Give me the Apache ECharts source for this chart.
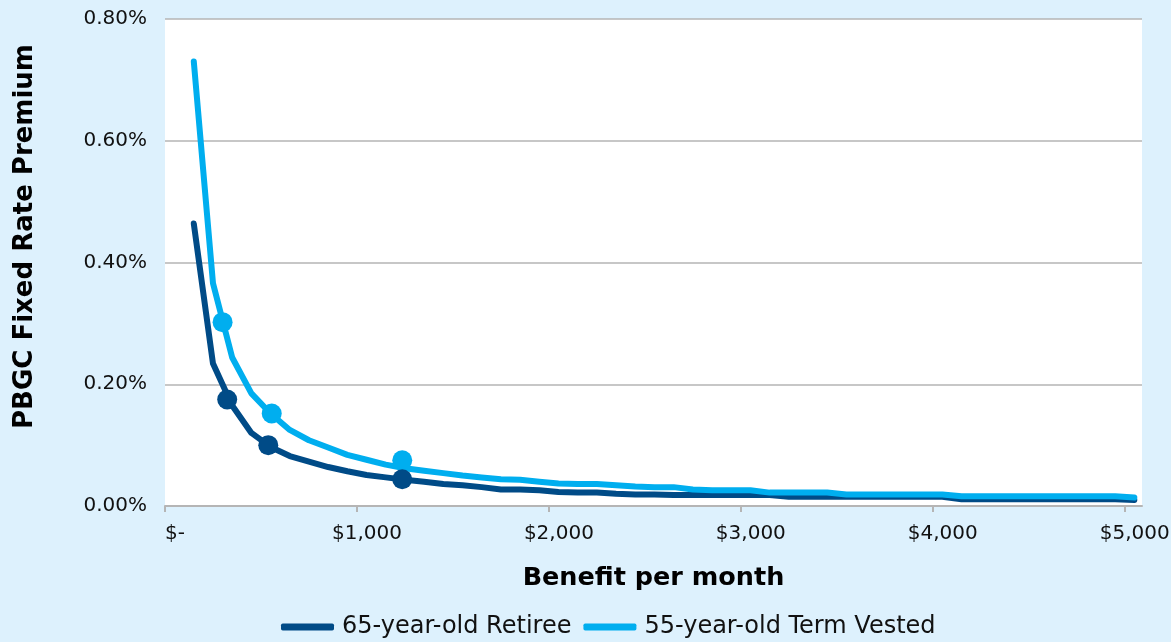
<!DOCTYPE html>
<html>
<head>
<meta charset="utf-8">
<script src="https://cdn.jsdelivr.net/npm/echarts@6/dist/echarts.min.js"></script>
<style>
html,body{margin:0;padding:0;background:#DDF1FD;}
#chart{width:1171px;height:642px;}
</style>
</head>
<body>
<div id="chart"></div>
<script>
// Benefit per month ($) for each plotted point
const benefits = [150,250,350,450,550,650,750,850,950,1050,1150,1250,1350,1450,1550,1650,1750,1850,1950,2050,
  2150,2250,2350,2450,2550,2650,2750,2850,2950,3050,3150,3250,3350,3450,3550,3650,3750,3850,3950,4050,
  4150,4250,4350,4450,4550,4650,4750,4850,4950,5050];
// PBGC fixed rate premium as % of benefit value
const retiree = [0.464,0.234,0.165,0.120,0.097,0.082,0.073,0.064,0.057,0.051,0.047,0.043,0.040,0.036,0.034,0.031,0.027,0.027,0.026,0.023,
  0.022,0.022,0.020,0.019,0.019,0.018,0.018,0.018,0.018,0.018,0.018,0.015,0.015,0.015,0.015,0.015,0.015,0.015,0.015,0.015,
  0.011,0.011,0.011,0.011,0.011,0.011,0.011,0.011,0.011,0.010];
const termVested = [0.730,0.366,0.244,0.185,0.152,0.125,0.108,0.096,0.084,0.076,0.068,0.062,0.058,0.054,0.050,0.047,0.044,0.043,0.040,0.037,
  0.036,0.036,0.034,0.032,0.031,0.031,0.027,0.026,0.026,0.026,0.022,0.022,0.022,0.022,0.019,0.019,0.019,0.019,0.019,0.019,
  0.016,0.016,0.016,0.016,0.016,0.016,0.016,0.016,0.016,0.014];
// Highlighted points
const retireeMarkBenefit = [324,538,1236];
const retireeMarkPremium = [0.175,0.100,0.044];
const termVestedMarkBenefit = [300,556,1236];
const termVestedMarkPremium = [0.302,0.152,0.075];
// Axis ticks
const xTicks = [0,1000,2000,3000,4000,5000];
const seriesNames = ['65-year-old Retiree','55-year-old Term Vested'];

const DARK = '#004B87';
const LIGHT = '#00AEEF';
const FONT = '"DejaVu Sans", "Liberation Sans", Arial, sans-serif';

const zip = (xs, ys) => xs.map((x, i) => [x, ys[i]]);

const chart = echarts.init(document.getElementById('chart'), null, {renderer:'canvas'});
chart.setOption({
  backgroundColor: '#DDF1FD',
  animation: false,
  textStyle: {fontFamily: FONT},
  grid: {left:165, right:29, top:19, bottom:136, show:true, backgroundColor:'#FFFFFF', borderWidth:0,
    containLabel:false, outerBoundsMode:'none'},
  legend: {
    data: seriesNames,
    left: 276, top: 610,
    itemWidth: 53, itemHeight: 7, itemGap: 12,
    icon: 'roundRect',
    textStyle: {fontFamily: FONT, fontSize: 24, color:'#111', padding:[0,0,0,3]}
  },
  xAxis: {
    type: 'value', min: 0, max: 5090,
    name: 'Benefit per month', nameLocation: 'middle', nameGap: 59,
    nameTextStyle: {fontFamily: FONT, fontSize: 25.5, fontWeight: 'bold', color:'#000'},
    axisLine: {show:true, lineStyle:{color:'#B5B5B5', width:2}},
    axisTick: {show:true, length:6, lineStyle:{color:'#B5B5B5', width:2}, customValues: xTicks},
    axisLabel: {
      customValues: xTicks, margin: 18, fontSize: 20, color:'#111', fontFamily: FONT,
      padding:[0,0,0,20],
      formatter: v => v === 0 ? '$-' : '$' + v.toLocaleString('en-US')
    },
    splitLine: {show:false}
  },
  yAxis: {
    type: 'value', min: 0, max: 0.8, interval: 0.2,
    name: 'PBGC Fixed Rate Premium', nameLocation: 'middle', nameGap: 127, nameRotate: 90,
    nameTextStyle: {fontFamily: FONT, fontSize: 26, fontWeight: 'bold', color:'#000', padding:[0,0,0,52]},
    axisLine: {show:false}, axisTick: {show:false},
    axisLabel: {margin: 18, fontSize: 20, color:'#111', fontFamily: FONT, formatter: v => v.toFixed(2) + '%'},
    splitLine: {show:true, lineStyle:{color:'#B5B5B5', width:1.5}}
  },
  series: [
    {name: seriesNames[0], type:'line', data: zip(benefits, retiree), showSymbol:false, symbol:'none',
      color: DARK, lineStyle:{color:DARK, width:6, cap:'round', join:'round'}, z:2},
    {name: seriesNames[1], type:'line', data: zip(benefits, termVested), showSymbol:false, symbol:'none',
      color: LIGHT, lineStyle:{color:LIGHT, width:6, cap:'round', join:'round'}, z:3},
    {name: 'Term Vested points', type:'scatter', data: zip(termVestedMarkBenefit, termVestedMarkPremium),
      symbol:'circle', symbolSize: 20, itemStyle:{color:LIGHT, opacity:1}, z:4},
    {name: 'Retiree points', type:'scatter', data: zip(retireeMarkBenefit, retireeMarkPremium),
      symbol:'circle', symbolSize: 20, itemStyle:{color:DARK, opacity:1}, z:5}
  ]
});
</script>
</body>
</html>
